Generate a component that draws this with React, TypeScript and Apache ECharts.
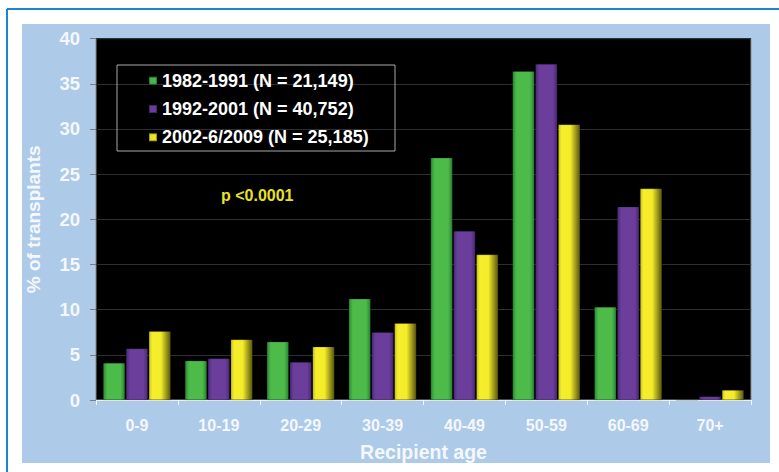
import React, { useEffect, useRef } from "react";
import * as echarts from "echarts";

const categories = ["0-9", "10-19", "20-29", "30-39", "40-49", "50-59", "60-69", "70+"];
const seriesNames = ["1982-1991 (N = 21,149)", "1992-2001 (N = 40,752)", "2002-6/2009 (N = 25,185)"];
const values1982 = [4.1, 4.35, 6.45, 11.2, 26.8, 36.4, 10.3, 0];
const values1992 = [5.7, 4.6, 4.2, 7.5, 18.7, 37.2, 21.4, 0.4];
const values2002 = [7.6, 6.7, 5.9, 8.5, 16.1, 30.5, 23.4, 1.1];
const yTicks = [0, 5, 10, 15, 20, 25, 30, 35, 40];

const grad = (stops: [number, string][]) =>
  new echarts.graphic.LinearGradient(0, 0, 1, 0, stops.map(([offset, color]) => ({ offset, color })));

export default function App() {
  const ref = useRef<HTMLDivElement>(null);
  useEffect(() => {
    if (!ref.current) return;
    const chart = echarts.init(ref.current, null, { renderer: "svg" });
    const font = "'Liberation Sans', Arial, sans-serif";
    const greenFill = grad([[0, "#2c8a36"], [0.18, "#4cbb49"], [0.8, "#4cbb49"], [1, "#2a8234"]]);
    const purpleFill = grad([[0, "#4c2a78"], [0.18, "#6b3e9b"], [0.8, "#6b3e9b"], [1, "#4a2874"]]);
    const yellowFill = grad([[0, "#c9c41c"], [0.15, "#f6ee2a"], [0.55, "#f4ec28"], [1, "#585610"]]);
    const fills = [greenFill, purpleFill, yellowFill];
    const legendColors = ["#46b64a", "#6a3d9a", "#ece61e"];
    const data = [values1982, values1992, values2002];
    chart.setOption({
      animation: false,
      backgroundColor: "#ffffff",
      textStyle: { fontFamily: font },
      graphic: [
        { type: "rect", z: -10, shape: { x: 22, y: 24, width: 748, height: 439 }, style: { fill: "#adcae9" } },
        { type: "line", z: -10, shape: { x1: 7, y1: 9, x2: 779, y2: 9 }, style: { stroke: "#1e84cc", lineWidth: 2 } },
        { type: "line", z: -10, shape: { x1: 7, y1: 9, x2: 7, y2: 472 }, style: { stroke: "#1e84cc", lineWidth: 2 } },
        { type: "rect", z: 10, shape: { x: 117, y: 65, width: 278, height: 86 }, style: { fill: "rgba(0,0,0,0)", stroke: "#a8a8a8", lineWidth: 1 } },
        {
          type: "text", z: 10, x: 221, y: 195,
          style: { text: "p <0.0001", fill: "#e9e220", font: `bold 16px ${font}`, textVerticalAlign: "middle" },
        },
      ],
      legend: {
        data: seriesNames.map((name, i) => ({ name, itemStyle: { color: legendColors[i] } })),
        orient: "vertical",
        left: 148,
        top: 71.7,
        icon: "rect",
        itemWidth: 8,
        itemHeight: 8,
        itemGap: 10.3,
        padding: 0,
        selectedMode: false,
        textStyle: { color: "#ffffff", fontSize: 18, fontWeight: "bold", lineHeight: 18, fontFamily: font },
      },
      grid: {
        left: 96, right: 28, top: 38.6, bottom: 72,
        show: true, backgroundColor: "#000000", borderColor: "#8a8a8a", borderWidth: 1,
      },
      xAxis: {
        type: "category",
        data: categories,
        name: "Recipient age",
        nameLocation: "middle",
        nameGap: 42,
        nameTextStyle: { color: "#f4f8fc", fontSize: 19.5, fontWeight: "bold", fontFamily: font },
        axisLine: { show: true, lineStyle: { color: "#e8eef6", width: 1 } },
        axisTick: { show: true, length: 5, lineStyle: { color: "#f4f8fc" } },
        axisLabel: { color: "#f4f8fc", fontSize: 16, fontWeight: "bold", margin: 17, fontFamily: font },
      },
      yAxis: {
        type: "value",
        min: yTicks[0],
        max: yTicks[yTicks.length - 1],
        interval: 5,
        name: "% of transplants",
        nameLocation: "middle",
        nameGap: 53,
        nameTextStyle: { color: "#f4f8fc", fontSize: 19, fontWeight: "bold", fontFamily: font },
        axisLine: { show: false },
        axisTick: { show: true, length: 6, lineStyle: { color: "#7d7d85" } },
        axisLabel: { color: "#f4f8fc", fontSize: 18.5, fontWeight: "bold", margin: 16, padding: [0, 0, 6, 0], fontFamily: font },
        splitLine: { show: true, lineStyle: { color: "#2e2e36", width: 1 } },
      },
      series: data.map((vals, i) => ({
        type: "bar",
        name: seriesNames[i],
        data: vals,
        barWidth: 22,
        barGap: "4%",
        itemStyle: { color: fills[i], borderColor: "rgba(0,0,0,0.35)", borderWidth: 0.5 },
      })),
    });
    return () => chart.dispose();
  }, []);
  return <div ref={ref} style={{ position: "fixed", left: 0, top: 0, width: 779, height: 472 }} />;
}
